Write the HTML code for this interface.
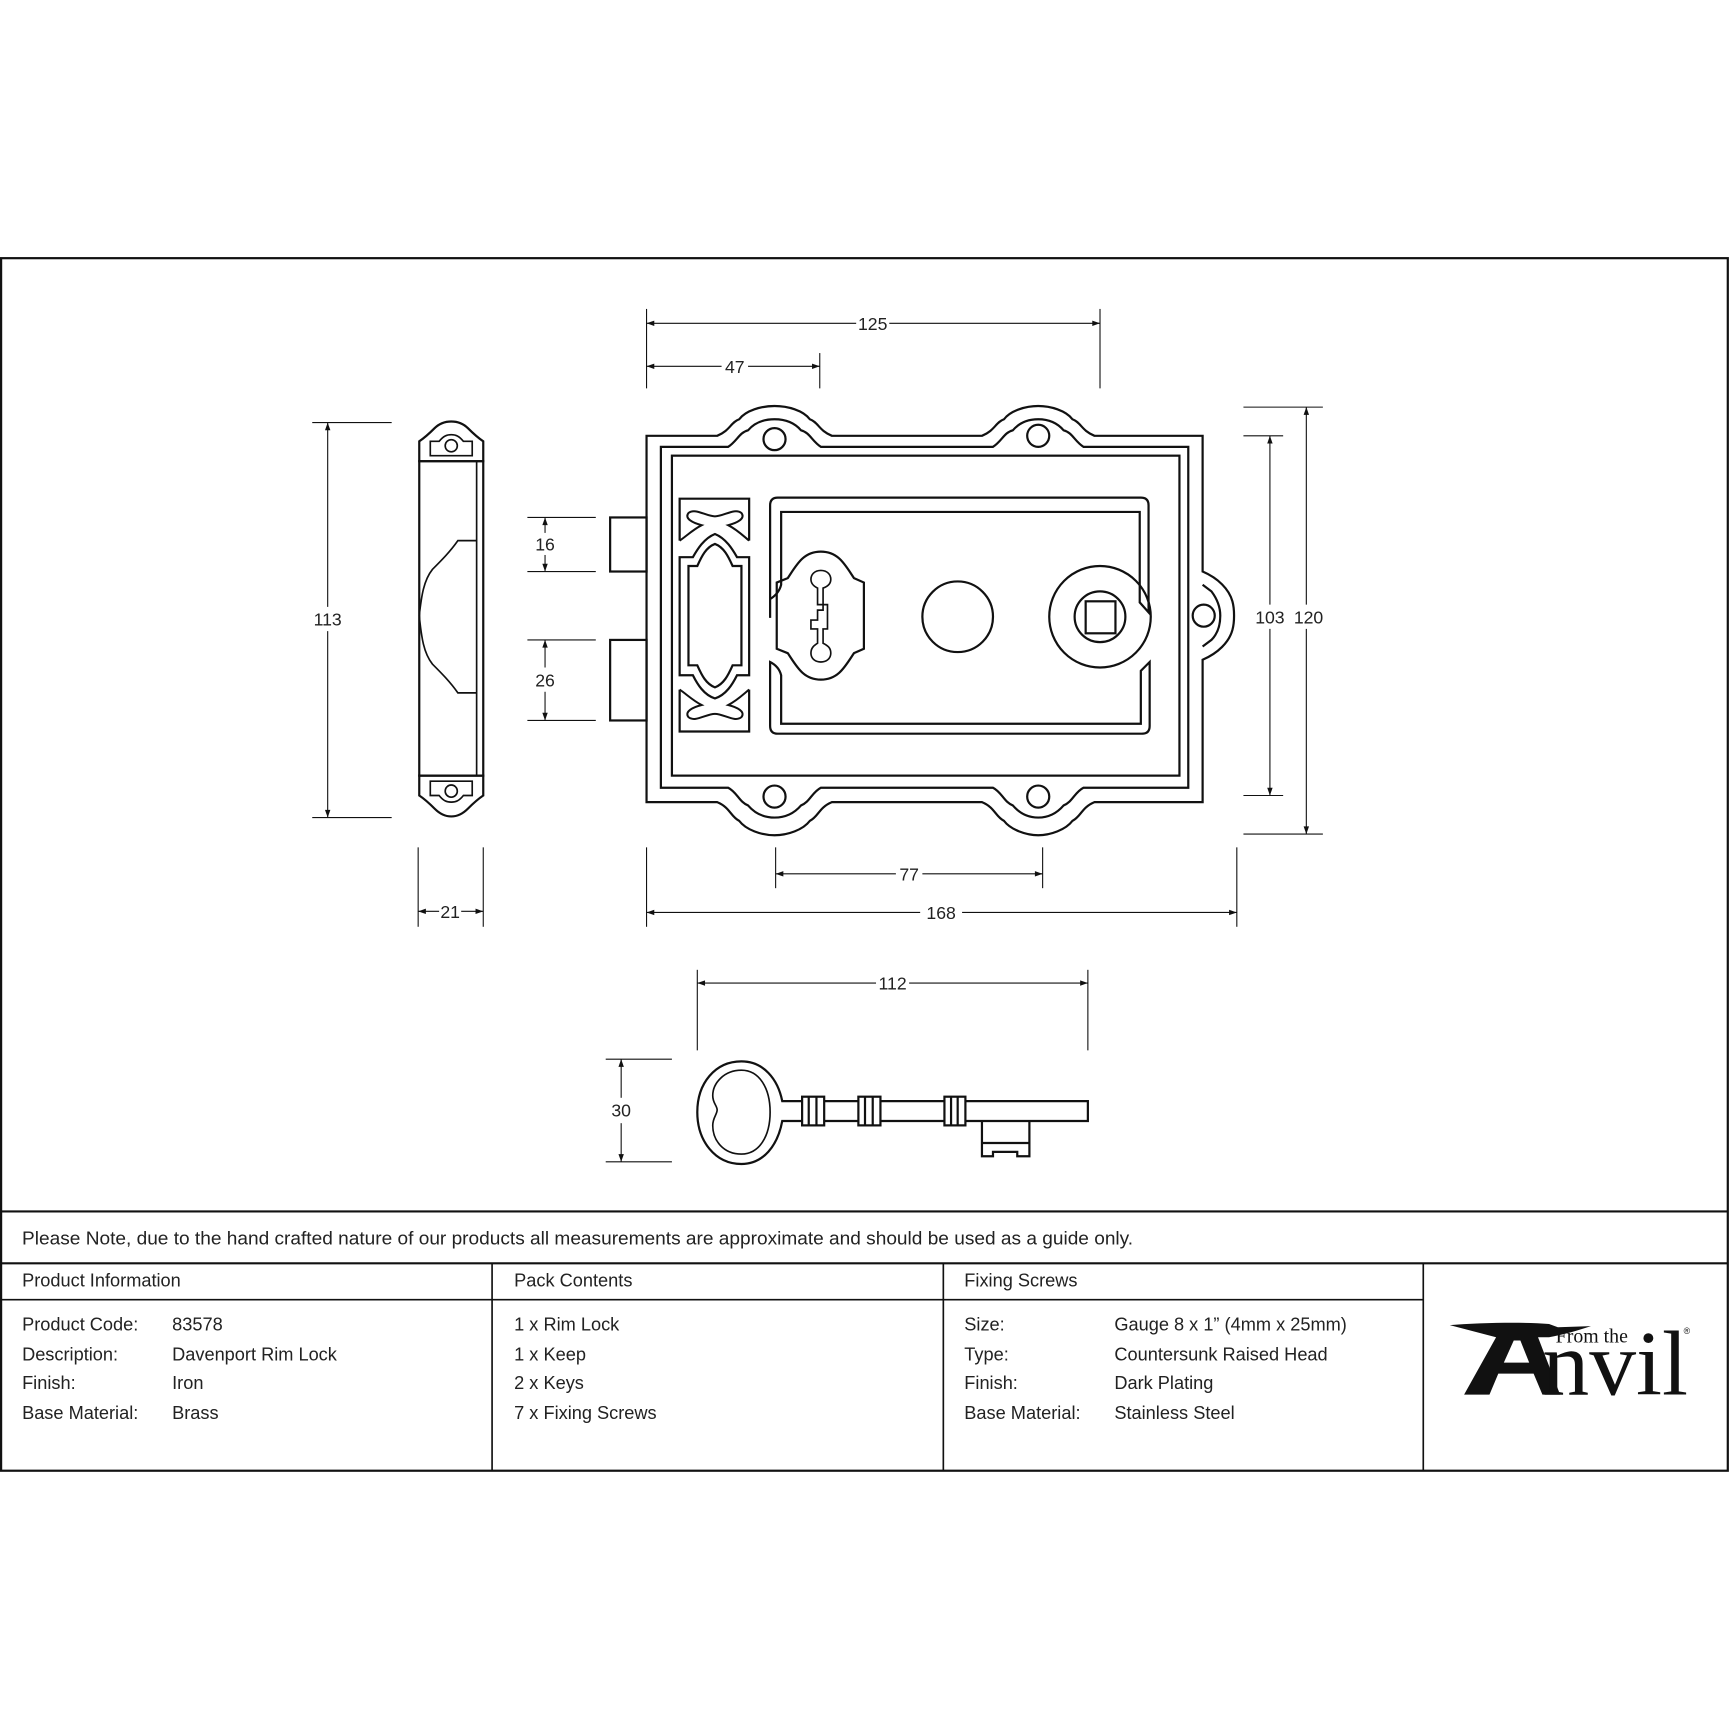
<!DOCTYPE html>
<html><head><meta charset="utf-8"><style>
html,body{margin:0;padding:0;background:#fff}
svg{display:block}
text{font-family:"Liberation Sans",sans-serif;fill:#222}
.t{font-size:16.5px}
.d{font-size:16px}
</style></head><body>
<svg width="1730" height="1730" viewBox="0 0 1568 1568" xmlns="http://www.w3.org/2000/svg">
<defs>
<marker id="a" viewBox="0 0 10 10" refX="10" refY="5" markerWidth="10" markerHeight="7" orient="auto-start-reverse" markerUnits="userSpaceOnUse"><path d="M0,1.5 L10,5 L0,8.5z" fill="#111"/></marker>
</defs>
<rect width="1568" height="1568" fill="#fff"/>
<g fill="none" stroke="#111" stroke-width="2">
<rect x="1" y="234" width="1565" height="1099"/>
<line x1="1" y1="1098" x2="1566" y2="1098"/>
<line x1="1" y1="1145" x2="1566" y2="1145"/>
<line x1="1" y1="1178" x2="1290" y2="1178" stroke-width="1.5"/>
<line x1="446" y1="1145" x2="446" y2="1333" stroke-width="1.5"/>
<line x1="855" y1="1145" x2="855" y2="1333" stroke-width="1.5"/>
<line x1="1290" y1="1145" x2="1290" y2="1333" stroke-width="1.5"/>
</g>
<g class="t">
<text x="20" y="1128" textLength="1007" lengthAdjust="spacingAndGlyphs">Please Note, due to the hand crafted nature of our products all measurements are approximate and should be used as a guide only.</text>
<text x="20" y="1166">Product Information</text>
<text x="466" y="1166">Pack Contents</text>
<text x="874" y="1166">Fixing Screws</text>
<text x="20" y="1206">Product Code:</text><text x="156" y="1206">83578</text>
<text x="20" y="1233">Description:</text><text x="156" y="1233">Davenport Rim Lock</text>
<text x="20" y="1259">Finish:</text><text x="156" y="1259">Iron</text>
<text x="20" y="1286">Base Material:</text><text x="156" y="1286">Brass</text>
<text x="466" y="1206">1 x Rim Lock</text>
<text x="466" y="1233">1 x Keep</text>
<text x="466" y="1259">2 x Keys</text>
<text x="466" y="1286">7 x Fixing Screws</text>
<text x="874" y="1206">Size:</text><text x="1010" y="1206">Gauge 8 x 1” (4mm x 25mm)</text>
<text x="874" y="1233">Type:</text><text x="1010" y="1233">Countersunk Raised Head</text>
<text x="874" y="1259">Finish:</text><text x="1010" y="1259">Dark Plating</text>
<text x="874" y="1286">Base Material:</text><text x="1010" y="1286">Stainless Steel</text>
</g>
<!-- logo -->
<g>
<path d="M1314,1201 C1340,1199 1380,1198 1404,1200 L1412,1203 L1442,1202 C1430,1206 1416,1210 1404,1212 L1394,1212 L1414,1264 L1398,1264 L1390,1245 L1358,1245 L1350,1264 L1327,1264 L1356,1212 Z" fill="#111"/>
<path d="M1363,1235 L1386,1235 L1378,1215 L1372,1215 Z" fill="#fff"/>
<text x="1410" y="1217" style="font-family:'Liberation Serif',serif;font-size:18px;fill:#111">From the</text>
<text x="1398" y="1264" style="font-family:'Liberation Serif',serif;font-size:84px;fill:#111" textLength="132" lengthAdjust="spacingAndGlyphs">nvil</text>
<text x="1526" y="1209" style="font-size:8px;fill:#111">®</text>
</g>
<!-- dimensions -->
<g stroke="#111" stroke-width="1" fill="none">
<line x1="586" y1="280" x2="586" y2="352"/><line x1="997" y1="280" x2="997" y2="352"/><line x1="743" y1="320" x2="743" y2="352"/>
<line x1="586" y1="293" x2="776" y2="293" marker-start="url(#a)"/><line x1="806" y1="293" x2="997" y2="293" marker-end="url(#a)"/>
<line x1="586" y1="332" x2="654" y2="332" marker-start="url(#a)"/><line x1="678" y1="332" x2="743" y2="332" marker-end="url(#a)"/>
<line x1="478" y1="469" x2="540" y2="469"/><line x1="478" y1="518" x2="540" y2="518"/>
<line x1="494" y1="469" x2="494" y2="483" marker-start="url(#a)"/><line x1="494" y1="503" x2="494" y2="518" marker-end="url(#a)"/>
<line x1="478" y1="580" x2="540" y2="580"/><line x1="478" y1="653" x2="540" y2="653"/>
<line x1="494" y1="580" x2="494" y2="605" marker-start="url(#a)"/><line x1="494" y1="627" x2="494" y2="653" marker-end="url(#a)"/>
<line x1="283" y1="383" x2="355" y2="383"/><line x1="283" y1="741" x2="355" y2="741"/>
<line x1="297" y1="383" x2="297" y2="550" marker-start="url(#a)"/><line x1="297" y1="572" x2="297" y2="741" marker-end="url(#a)"/>
<line x1="1127" y1="395" x2="1163" y2="395"/><line x1="1127" y1="721" x2="1163" y2="721"/>
<line x1="1151" y1="395" x2="1151" y2="548" marker-start="url(#a)"/><line x1="1151" y1="570" x2="1151" y2="721" marker-end="url(#a)"/>
<line x1="1127" y1="369" x2="1199" y2="369"/><line x1="1127" y1="756" x2="1199" y2="756"/>
<line x1="1184" y1="369" x2="1184" y2="548" marker-start="url(#a)"/><line x1="1184" y1="570" x2="1184" y2="756" marker-end="url(#a)"/>
<line x1="379" y1="768" x2="379" y2="840"/><line x1="438" y1="768" x2="438" y2="840"/>
<line x1="379" y1="826" x2="398" y2="826" marker-start="url(#a)"/><line x1="418" y1="826" x2="438" y2="826" marker-end="url(#a)"/>
<line x1="703" y1="768" x2="703" y2="805"/><line x1="945" y1="768" x2="945" y2="805"/>
<line x1="703" y1="792" x2="812" y2="792" marker-start="url(#a)"/><line x1="836" y1="792" x2="945" y2="792" marker-end="url(#a)"/>
<line x1="586" y1="768" x2="586" y2="840"/><line x1="1121" y1="768" x2="1121" y2="840"/>
<line x1="586" y1="827" x2="834" y2="827" marker-start="url(#a)"/><line x1="872" y1="827" x2="1121" y2="827" marker-end="url(#a)"/>
<line x1="632" y1="879" x2="632" y2="952"/><line x1="986" y1="879" x2="986" y2="952"/>
<line x1="632" y1="891" x2="794" y2="891" marker-start="url(#a)"/><line x1="824" y1="891" x2="986" y2="891" marker-end="url(#a)"/>
<line x1="549" y1="960" x2="609" y2="960"/><line x1="549" y1="1053" x2="609" y2="1053"/>
<line x1="563" y1="960" x2="563" y2="995" marker-start="url(#a)"/><line x1="563" y1="1018" x2="563" y2="1053" marker-end="url(#a)"/>
</g>
<g class="d">
<text x="791" y="299" text-anchor="middle">125</text>
<text x="666" y="338" text-anchor="middle">47</text>
<text x="494" y="499" text-anchor="middle">16</text>
<text x="494" y="622" text-anchor="middle">26</text>
<text x="297" y="567" text-anchor="middle">113</text>
<text x="1151" y="565" text-anchor="middle">103</text>
<text x="1186" y="565" text-anchor="middle">120</text>
<text x="408" y="832" text-anchor="middle">21</text>
<text x="824" y="798" text-anchor="middle">77</text>
<text x="853" y="833" text-anchor="middle">168</text>
<text x="809" y="897" text-anchor="middle">112</text>
<text x="563" y="1012" text-anchor="middle">30</text>
</g>
<!-- lock -->
<g fill="none" stroke="#111" stroke-width="2">
<rect x="553" y="469" width="33" height="49"/>
<rect x="553" y="580" width="33" height="73"/>
<path d="M586,395 L650,395 C662,390 662,383 670,380 C676,372 690,368 702,368 C714,368 728,372 734,380 C742,383 742,390 754,395 L890,395 C902,390 902,383 910,380 C916,372 930,368 941,368 C952,368 966,372 972,380 C980,383 980,390 992,395 L1090,395 L1090,518 C1104,524 1114,534 1117,545 C1119,552 1119,564 1117,571 C1114,582 1104,592 1090,598 L1090,727 L992,727 C980,732 980,740 972,744 C966,752 952,757 941,757 C930,757 916,752 910,744 C902,740 902,732 890,727 L754,727 C742,732 742,740 734,744 C728,752 714,757 702,757 C690,757 676,752 670,744 C662,740 662,732 650,727 L586,727 Z"/>
<path d="M599,405 L660,405 C668,400 670,392 678,390 C684,383 692,380 702,380 C712,380 720,383 726,390 C734,392 736,400 744,405 L900,405 C908,400 910,392 918,390 C924,383 932,380 941,380 C950,380 958,383 964,390 C972,392 974,400 982,405 L1077,405 L1077,714 L982,714 C974,718 972,727 964,730 C958,737 950,741 941,741 C932,741 924,737 918,730 C910,727 908,718 900,714 L744,714 C736,718 734,727 726,730 C720,737 712,741 702,741 C692,741 684,737 678,730 C670,727 668,718 660,714 L599,714 Z"/>
<rect x="609" y="413" width="460" height="290"/>
<path d="M1090,530 L1098,536 C1104,544 1106,552 1106,558 C1106,566 1104,574 1098,580 L1090,586"/>
<circle cx="702" cy="398" r="10"/><circle cx="941" cy="395" r="10"/>
<circle cx="702" cy="722" r="10"/><circle cx="941" cy="722" r="10"/>
<circle cx="1091" cy="558" r="10"/>
<!-- left panel -->
<path d="M616,490 L616,452 L679,452 L679,490"/>
<path d="M616,490 C622,486 628,480 636,476 C628,474 620,470 624,465 C630,460 640,468 648,468 C656,468 666,460 672,465 C676,470 668,474 660,476 C668,480 674,486 679,490" stroke-width="1.8"/>
<path d="M616,625 L616,663 L679,663 L679,625"/>
<path d="M616,625 C622,629 628,635 636,639 C628,641 620,645 624,650 C630,655 640,647 648,647 C656,647 666,655 672,650 C676,645 668,641 660,639 C668,635 674,629 679,625" stroke-width="1.8"/>
<path d="M648,484 C658,488 664,498 668,505 L679,505 L679,612 L668,612 C664,620 658,630 648,633 C638,630 632,620 628,612 L616,612 L616,505 L628,505 C632,498 638,488 648,484 Z"/>
<path d="M648,493 C656,496 660,504 664,513 L672,513 L672,603 L664,603 C660,612 656,620 648,623 C640,620 636,612 632,603 L624,603 L624,513 L632,513 C636,504 640,496 648,493 Z"/>
<!-- rounded frame -->
<path d="M698,560 L698,458 Q698,451 705,451 L1034,451 Q1041,451 1041,458 L1041,555 L1033,546 L1033,464 L708,464 L708,530 Q706,538 698,543"/>
<path d="M698,600 Q706,604 708,612 L708,656 L1034,656 L1034,608 L1042,600 L1042,658 Q1042,665 1035,665 L705,665 Q698,665 698,658 Z"/>
<!-- escutcheon -->
<path d="M744,500 C728,500 722,512 714,524 L704,528 L704,588 L714,592 C722,604 728,616 744,616 C760,616 766,604 774,592 L783,588 L783,528 L774,524 C766,512 760,500 744,500 Z"/>
<path d="M744,517 C738,517 735,521 735,525 C735,530 739,532 741,533 L741,548 L746,548 L746,553 L741,553 L741,562 L735,562 L735,570 L741,570 L741,583 C738,585 735,587 735,592 C735,597 739,600 744,600 C749,600 753,597 753,592 C753,587 750,585 746,583 L746,570 L750,570 L750,548 L746,548 L746,533 C749,532 753,530 753,525 C753,521 750,517 744,517 Z" stroke-width="1.5"/>
<circle cx="868" cy="559" r="32"/>
<circle cx="997" cy="559" r="46"/>
<circle cx="997" cy="559" r="23"/>
<rect x="984" y="545" width="27" height="29"/>
</g>
<!-- keep -->
<g fill="none" stroke="#111" stroke-width="2">
<path d="M380,418 L380,400 C386,396 390,392 394,388 C399,383 404,382 409,382 C414,382 419,383 424,388 C428,392 432,396 438,400 L438,418 Z"/>
<path d="M390,413 L390,400 L398,400 C402,395 405,394 409,394 C413,394 416,395 420,400 L428,400 L428,413 Z" stroke-width="1.5"/>
<circle cx="409" cy="404" r="5.5" stroke-width="1.5"/>
<rect x="380" y="418" width="58" height="285"/>
<line x1="432" y1="418" x2="432" y2="703" stroke-width="1.5"/>
<path d="M432,490 L415,490 C408,500 400,508 392,516 C384,526 382,540 380,558 C382,578 384,592 392,602 C400,610 408,618 415,628 L432,628" stroke-width="1.5"/>
<path d="M380,703 L380,721 C386,725 390,729 394,733 C399,738 404,740 409,740 C414,740 419,738 424,733 C428,729 432,725 438,721 L438,703 Z"/>
<path d="M390,708 L390,721 L398,721 C402,726 405,727 409,727 C413,727 416,726 420,721 L428,721 L428,708 Z" stroke-width="1.5"/>
<circle cx="409" cy="717" r="5.5" stroke-width="1.5"/>
</g>
<!-- key -->
<g fill="none" stroke="#111" stroke-width="2">
<path d="M709,998 C705,978 692,962 672,962 C648,962 632,982 632,1008 C632,1034 648,1055 672,1055 C692,1055 705,1038 709,1016 L986,1016 L986,998 Z"/>
<path d="M672,970 C656,970 646,982 646,993 C646,1000 650,1002 650,1006 C650,1010 646,1013 646,1020 C646,1034 656,1046 672,1046 C688,1046 698,1030 698,1008 C698,986 688,970 672,970 Z" stroke-width="1.5"/>
<rect x="727" y="994" width="20" height="26" fill="#fff"/><line x1="733" y1="994" x2="733" y2="1020"/><line x1="740" y1="994" x2="740" y2="1020"/>
<rect x="778" y="994" width="20" height="26" fill="#fff"/><line x1="784" y1="994" x2="784" y2="1020"/><line x1="791" y1="994" x2="791" y2="1020"/>
<rect x="856" y="994" width="19" height="26" fill="#fff"/><line x1="862" y1="994" x2="862" y2="1020"/><line x1="868" y1="994" x2="868" y2="1020"/>
<path d="M890,1016 L890,1048 L900,1048 L900,1044 L922,1044 L922,1048 L933,1048 L933,1016"/>
<line x1="890" y1="1036" x2="933" y2="1036"/>
</g>
</svg>
</body></html>
